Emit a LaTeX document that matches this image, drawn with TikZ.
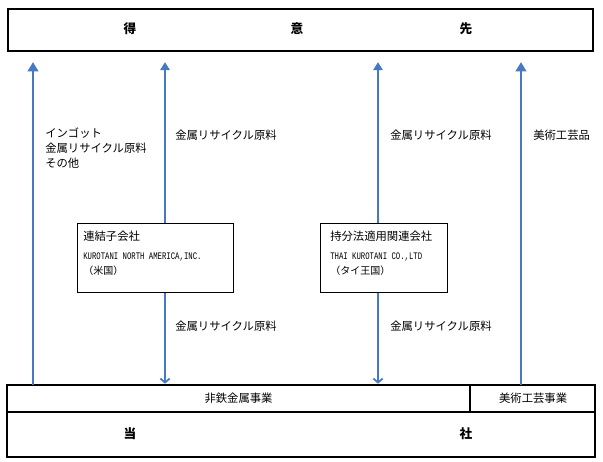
\documentclass[tikz,border=0pt]{standalone}
\usepackage{fontspec}
\setmainfont{Noto Sans CJK JP}
\newfontfamily\narrowfont[FakeStretch=0.73]{Liberation Mono}
\usetikzlibrary{positioning,arrows.meta}
\definecolor{arrowblue}{RGB}{70,120,195}

\begin{document}
\begin{tikzpicture}[
	x=0.75pt, y=-0.75pt,
	font=\fontsize{8.5}{11.25}\selectfont,
	frame/.style={draw, line width=1.6pt, inner sep=0pt, anchor=north west},
	cell/.style={draw, line width=0.8pt, inner sep=0pt, anchor=north west},
	subbox/.style={draw, line width=0.9pt, inner sep=0pt, anchor=north west, minimum height=51.75pt},
	head/.style={font=\fontsize{9.5}{11}\selectfont\bfseries},
	note/.style={anchor=west, align=left, inner sep=0pt},
	flow/.style={arrowblue, line width=2.2pt, -{Triangle[length=7pt,width=8pt]}},
	supply/.style={arrowblue, line width=1.6pt, -{Triangle[length=6pt,width=7pt]}},
	return/.style={arrowblue, line width=1.3pt, -{Straight Barb[length=3pt,width=7pt]}}
]
	\useasboundingbox (0,0) rectangle (603,461);

	\node[frame, minimum width=438.75pt, minimum height=31.5pt] (customer) at (7,8) {};
	\node[head] (c1) at (130,29) {得};
	\node[head] (c2) at (297,29) {意};
	\node[head] (c3) at (466,29) {先};

	\node[cell, minimum width=346.5pt, minimum height=19.5pt] (metal) at (7,385) {非鉄金属事業};
	\node[cell, minimum width=93.75pt, minimum height=19.5pt] (art) at (metal.north east) {美術工芸事業};
	\node[cell, minimum width=440.25pt, minimum height=33pt] (company) at (metal.south west) {};
	\draw[line width=1.6pt] (metal.north west) rectangle (company.south east);
	\node[head] (t1) at (130,434) {当};
	\node[head] (t2) at (466,434) {社};

	\node[subbox, minimum width=117pt] (sub1) at (77,223) {};
	\node[anchor=north west, align=left, inner sep=0pt] (sub1text) at (83,231)
		{連結子会社\\[3pt]
		{\narrowfont\fontsize{7.5}{10.5}\selectfont KUROTANI NORTH AMERICA,INC.}\\
		{\fontsize{7.5}{10.5}\selectfont （米国）}};
	\node[subbox, minimum width=95.25pt] (sub2) at (320,223) {};
	\node[anchor=north west, align=left, inner sep=0pt] (sub2text) at (330,231)
		{持分法適用関連会社\\[3pt]
		{\narrowfont\fontsize{7.5}{10.5}\selectfont THAI KUROTANI CO.,LTD}\\
		{\fontsize{7.5}{10.5}\selectfont （タイ王国）}};

	\coordinate (col1) at (33,0);
	\coordinate (col2) at (165,0);
	\coordinate (col3) at (378,0);
	\coordinate (col4) at (521,0);

	\draw[flow, shorten >=7.5pt] (metal.north -| col1) -- (customer.south -| col1);
	\draw[supply, shorten >=7.5pt] (sub1.north -| col2) -- (customer.south -| col2);
	\draw[return, shorten >=1pt] (sub1.south -| col2) -- (metal.north -| col2);
	\draw[supply, shorten >=7.5pt] (sub2.north -| col3) -- (customer.south -| col3);
	\draw[return, shorten >=1pt] (sub2.south -| col3) -- (metal.north -| col3);
	\draw[flow, shorten >=7.5pt] (art.north -| col4) -- (customer.south -| col4);

	\node[note, anchor=north west] (n1) at (45,128) {インゴット\\金属リサイクル原料\\その他};
	\node[note] (n2) at (175,135) {金属リサイクル原料};
	\node[note] (n3) at (390,135) {金属リサイクル原料};
	\node[note] (n4) at (533,135) {美術工芸品};
	\node[note] (n5) at (175,326) {金属リサイクル原料};
	\node[note] (n6) at (390,326) {金属リサイクル原料};
\end{tikzpicture}
\end{document}
